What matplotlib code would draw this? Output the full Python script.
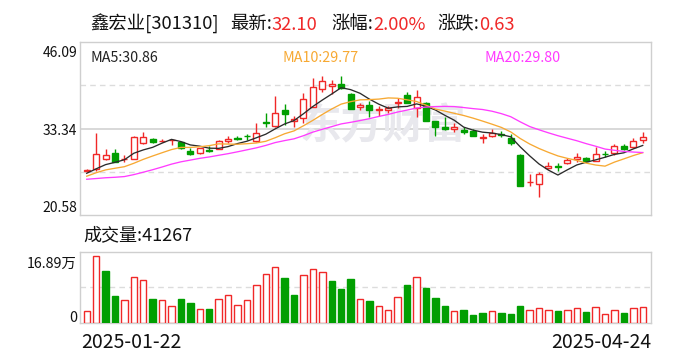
import matplotlib
matplotlib.use("Agg")
import matplotlib.pyplot as plt
import numpy as np
import pandas as pd
from matplotlib.patches import Rectangle

plt.rcParams['font.family'] = ['Noto Sans CJK SC', 'DejaVu Sans']

# ---------------- data ----------------
stock_name = "鑫宏业"
stock_code = "301310"
latest_price = "32.10"
pct_change = "2.00%"
abs_change = "0.63"
last_volume = "41267"
start_date = "2025-01-22"
end_date = "2025-04-24"
price_ticks = [20.58, 33.34, 46.09]
volume_max_label = "16.89万"
volume_max = 16.89
ma_labels = ["MA5:30.86", "MA10:29.77", "MA20:29.80"]
ma_windows = [5, 10, 20]

opens = [27.10, 27.33, 28.90, 29.69, 28.80, 28.81, 31.17, 31.81, 31.50, 31.60,
         31.36, 30.03, 29.69, 30.25, 30.33, 31.50, 31.90, 32.30, 31.46, 34.25,
         33.77, 36.08, 34.47, 34.86, 36.58, 39.15, 39.68, 39.93, 38.41, 36.49,
         36.83, 36.10, 36.09, 37.10, 38.31, 36.34, 37.08, 34.46, 33.53, 33.24,
         33.13, 32.99, 32.00, 32.25, 32.50, 32.00, 29.44, 25.40, 25.16, 27.48,
         27.80, 28.31, 28.80, 29.04, 28.60, 29.65, 29.78, 30.77, 30.67, 31.60]
highs = [27.40, 32.74, 30.28, 30.28, 29.50, 32.20, 32.88, 31.90, 31.85, 31.80,
         31.40, 30.50, 30.55, 30.80, 31.65, 32.25, 32.20, 32.54, 34.21, 35.60,
         38.16, 36.93, 35.20, 38.65, 40.77, 41.16, 40.52, 41.11, 38.60, 37.17,
         37.46, 36.68, 36.68, 37.81, 38.80, 39.04, 37.32, 34.50, 35.10, 34.21,
         33.62, 33.28, 32.54, 33.24, 33.03, 32.54, 29.59, 26.63, 27.00, 28.45,
         28.22, 28.95, 29.69, 29.20, 30.67, 30.08, 31.07, 31.07, 31.91, 32.88]
lows = [26.95, 27.08, 28.70, 28.40, 28.40, 28.80, 31.07, 31.20, 31.30, 30.92,
        30.30, 29.40, 29.60, 29.90, 30.30, 31.26, 31.60, 31.60, 31.40, 33.62,
        33.60, 33.87, 33.62, 34.12, 36.50, 38.70, 38.45, 39.15, 36.20, 36.09,
        35.00, 35.20, 35.69, 36.44, 37.10, 35.10, 34.50, 32.25, 33.13, 32.88,
        32.54, 32.25, 31.26, 32.06, 32.06, 30.92, 24.80, 24.86, 23.19, 27.33,
        27.12, 28.12, 28.45, 28.45, 28.55, 29.20, 29.44, 30.18, 30.52, 31.26]
closes = [27.25, 29.60, 29.50, 28.45, 28.90, 32.06, 32.06, 31.41, 31.56, 31.66,
          30.43, 29.59, 30.48, 30.10, 31.51, 31.75, 31.82, 32.20, 32.65, 34.15,
          35.69, 35.45, 34.72, 37.67, 39.53, 40.42, 39.93, 39.38, 36.24, 36.83,
          36.09, 36.20, 36.44, 37.20, 37.17, 37.96, 34.51, 33.62, 33.28, 33.53,
          32.88, 32.29, 32.10, 32.65, 32.35, 31.26, 24.86, 25.50, 26.59, 27.82,
          27.65, 28.70, 29.10, 28.60, 29.55, 29.60, 30.81, 30.28, 31.47, 32.10]
# volume in 万手
volumes = [2.96, 16.89, 13.09, 6.76, 5.75, 11.49, 10.96, 6.00, 5.92, 4.40,
           6.00, 4.99, 3.64, 3.47, 6.17, 7.18, 4.65, 5.92, 9.47, 12.34,
           14.05, 11.28, 7.02, 12.08, 13.73, 12.98, 10.54, 8.51, 11.07, 6.17,
           5.49, 4.40, 3.21, 6.43, 9.55, 11.71, 8.79, 6.26, 4.22, 2.96,
           3.21, 1.95, 2.46, 2.96, 2.46, 2.20, 4.22, 3.39, 3.89, 3.39,
           2.96, 3.21, 3.89, 2.71, 4.15, 2.38, 3.21, 2.46, 3.72, 4.1267]
# closes of the 19 sessions before the window (estimated from the MA lines)
prior_closes = [27.5, 27.2, 27.0, 26.8, 26.3, 25.0, 24.0, 23.5, 23.2, 23.6,
                24.5, 25.3, 26.0, 26.6, 27.0, 26.3, 26.4, 26.75, 27.0]

# ---------------- style ----------------
RED = '#F02828'
GREEN = '#019F01'
MA_COLORS = ['#2b2b2b', '#F7A933', '#FF3CFF']
GRID = '#d6d6d6'
W, H = 688, 360

fig = plt.figure(figsize=(W / 100, H / 100), dpi=100)


def box(l, t, r, b):
    return [l / W, 1 - b / H, (r - l) / W, (b - t) / H]


def T(x, y, s, **kw):
    return fig.text(x / W, 1 - y / H, s, **kw)


ax = fig.add_axes(box(80.3, 42.3, 651.3, 215))
axv = fig.add_axes(box(80.3, 251.7, 651.3, 323))

n = len(closes)
xs = np.arange(n)
x_lo, x_hi = -0.68, n - 1 + 0.91

# ---------- price panel ----------
pmin, pmax = price_ticks[0], price_ticks[-1]
ax.set_xlim(x_lo, x_hi)
ax.set_ylim(pmin, pmax)
ax.axhline((pmin + pmax) / 2, color=GRID, lw=1.3, zorder=0)
for q in (0.25, 0.75):
    ax.axhline(pmin + (pmax - pmin) * q, color='#dcdcdc', lw=1.0,
               dashes=(4, 3), zorder=0)

# watermark
ax.text(0.53, 0.52, "东方财富", transform=ax.transAxes, ha='center',
        va='center', fontsize=30, fontweight='bold', color='#e8e8ed', zorder=0)

bw = 0.64
for i in range(n):
    o, h, l, c = opens[i], highs[i], lows[i], closes[i]
    up = c >= o
    col = RED if up else GREEN
    ax.vlines(xs[i], l, h, color=col, lw=1.0, zorder=2)
    top, bot = max(o, c), min(o, c)
    ax.add_patch(Rectangle((xs[i] - bw / 2, bot), bw, max(top - bot, 0.03),
                           facecolor='white' if up else GREEN,
                           edgecolor=col, lw=1.0, zorder=3))

all_closes = pd.Series(prior_closes + closes)
for w_, colr in zip(ma_windows, MA_COLORS):
    ma = all_closes.rolling(w_).mean().values[len(prior_closes):]
    ax.plot(xs, ma, color=colr, lw=0.95, zorder=4)

for s in ax.spines.values():
    s.set_color('#cfcfcf')
    s.set_linewidth(1.0)
ax.set_xticks([])
ax.set_yticks([])

# ---------- volume panel ----------
vtop = volume_max * (323 - 251.7) / (323 - 256)
axv.set_xlim(x_lo, x_hi)
axv.set_ylim(0, vtop)
axv.axhline(vtop / 2, color='#dcdcdc', lw=1.0, dashes=(4, 3), zorder=0)
prev = [prior_closes[-1]] + closes[:-1]
vw = 0.68
for i in range(n):
    up = closes[i] >= prev[i]
    if up:
        axv.add_patch(Rectangle((xs[i] - vw / 2, 0), vw, volumes[i],
                                facecolor='white', edgecolor=RED, lw=1.0, zorder=3))
    else:
        axv.add_patch(Rectangle((xs[i] - vw / 2, 0), vw, volumes[i],
                                facecolor=GREEN, edgecolor=GREEN, lw=1.0, zorder=3))
for s in axv.spines.values():
    s.set_color('#cfcfcf')
    s.set_linewidth(1.0)
axv.set_xticks([])
axv.set_yticks([])

# ---------- texts ----------
renderer = fig.canvas.get_renderer()


def pair(x, y, label, value, size):
    t = T(x, y, label, color='#111111', fontsize=size, va='baseline')
    bb = t.get_window_extent(renderer=renderer)
    T(x + bb.width, y, value, color=RED, fontsize=size, va='baseline')


T(90, 29.5, f"{stock_name}[{stock_code}]", color='#111111', fontsize=13.2,
  va='baseline')
pair(230, 29.5, "最新:", latest_price, 13.2)
pair(331, 29.5, "涨幅:", pct_change, 13.2)
pair(437, 29.5, "涨跌:", abs_change, 13.2)

for lbl, colr, xp in zip(ma_labels, MA_COLORS, [90.7, 282, 485]):
    T(xp, 61.5, lbl, color='#222222' if colr == MA_COLORS[0] else colr,
      fontsize=10.3, va='baseline')

T(77.3, 57, f"{price_ticks[2]:.2f}", ha='right', va='baseline', fontsize=10,
  color='#111111')
T(77.3, 135, f"{price_ticks[1]:.2f}", ha='right', va='baseline', fontsize=10,
  color='#111111')
T(77.3, 211.7, f"{price_ticks[0]:.2f}", ha='right', va='baseline', fontsize=10,
  color='#111111')

T(83, 240, f"成交量:{last_volume}", va='baseline', fontsize=13, color='#111111')
T(77, 268.3, volume_max_label, ha='right', va='baseline', fontsize=10.3,
  color='#111111')
T(77, 321.7, "0", ha='right', va='baseline', fontsize=10.3, color='#111111')

T(81, 348.3, start_date, va='baseline', fontsize=14, color='#111111')
T(651.5, 348.3, end_date, ha='right', va='baseline', fontsize=14,
  color='#111111')

fig.savefig("out.png", dpi=100, facecolor='white')
